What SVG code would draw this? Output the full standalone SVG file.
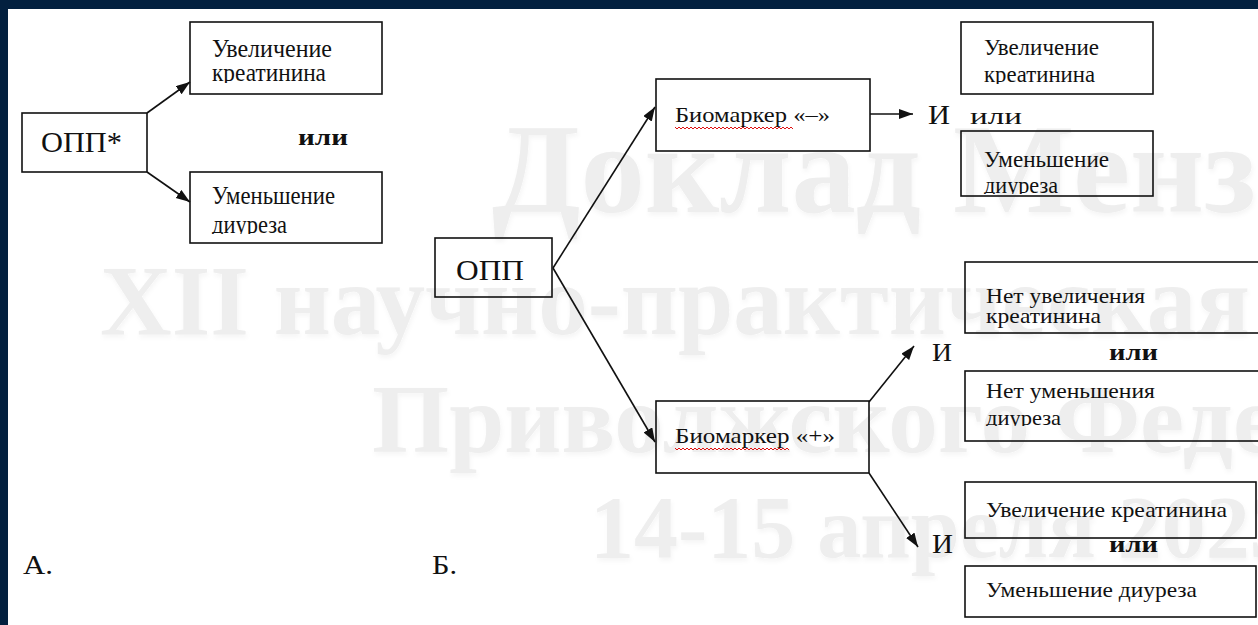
<svg xmlns="http://www.w3.org/2000/svg" width="1258" height="625" viewBox="0 0 1258 625">
<style>
text{font-family:'Liberation Serif','DejaVu Serif','Times New Roman',serif;}
.t{fill:#111;}
.b{font-weight:bold;}
.box{fill:none;stroke:#111;stroke-width:1.6;}
.wm{font-weight:bold;fill:#eeeeee;}
.cn{stroke:#111;stroke-width:1.6;fill:none;}
.sq{stroke:#e01010;stroke-width:1;fill:none;}
</style>
<defs>
<marker id="ah" markerUnits="userSpaceOnUse" markerWidth="15" markerHeight="11" refX="14" refY="5" orient="auto">
<path d="M0,0 L14,5 L0,10 z" fill="#111"/>
</marker>
<filter id="sh" x="-5%" y="-20%" width="110%" height="150%">
<feDropShadow dx="1" dy="3" stdDeviation="2" flood-color="#000" flood-opacity="0.04"/>
</filter>
<clipPath id="c1"><rect x="190" y="60" width="192" height="23"/></clipPath>
<clipPath id="c2"><rect x="190" y="208" width="192" height="26"/></clipPath>
<clipPath id="c3"><rect x="961" y="60" width="192" height="24"/></clipPath>
<clipPath id="c4"><rect x="961" y="170" width="192" height="24"/></clipPath>
<clipPath id="c5"><rect x="965" y="402" width="300" height="24"/></clipPath>
</defs>
<rect x="0" y="0" width="1258" height="625" fill="#ffffff"/>
<g id="watermark" filter="url(#sh)">
<text class="wm" x="492" y="212" font-size="127" textLength="764" lengthAdjust="spacingAndGlyphs">Доклад Менз</text>
<text class="wm" x="100" y="334" font-size="100" textLength="1150" lengthAdjust="spacingAndGlyphs">XII научно-практическая</text>
<text class="wm" x="372" y="452" font-size="98" textLength="905" lengthAdjust="spacingAndGlyphs">Приволжского Феде</text>
<text class="wm" x="590" y="557" font-size="88">14-15 апреля 2023</text>
</g>
<rect x="0" y="0" width="1258" height="9" fill="#03203f"/>
<rect x="0" y="0" width="8" height="625" fill="#03203f"/>
<g id="connectors">
<line class="cn" x1="147" y1="113" x2="190" y2="82" marker-end="url(#ah)"/>
<line class="cn" x1="147" y1="172" x2="190" y2="202" marker-end="url(#ah)"/>
<line class="cn" x1="553" y1="268" x2="655" y2="107" marker-end="url(#ah)"/>
<line class="cn" x1="553" y1="268" x2="655" y2="442" marker-end="url(#ah)"/>
<line class="cn" x1="870" y1="114" x2="913" y2="114" marker-end="url(#ah)"/>
<line class="cn" x1="869" y1="402" x2="914" y2="346" marker-end="url(#ah)"/>
<line class="cn" x1="869" y1="473" x2="918" y2="547" marker-end="url(#ah)"/>
</g>
<g id="a-opp"><rect class="box" x="22" y="113" width="125" height="59"/><text class="t" x="41" y="152" font-size="30" textLength="81" lengthAdjust="spacingAndGlyphs">ОПП*</text></g>
<g id="a-creat"><rect class="box" x="190" y="22" width="192" height="72"/>
<text class="t" x="212" y="57" font-size="25" textLength="120" lengthAdjust="spacingAndGlyphs">Увеличение</text>
<text class="t" x="212" y="81" font-size="25" textLength="114" lengthAdjust="spacingAndGlyphs" clip-path="url(#c1)">креатинина</text></g>
<g id="a-or"><text class="t b" x="298" y="145" font-size="24" textLength="50" lengthAdjust="spacingAndGlyphs">или</text></g>
<g id="a-diur"><rect class="box" x="190" y="172" width="192" height="71"/>
<text class="t" x="212" y="204" font-size="25" textLength="123" lengthAdjust="spacingAndGlyphs">Уменьшение</text>
<text class="t" x="212" y="233" font-size="25" textLength="75" lengthAdjust="spacingAndGlyphs" clip-path="url(#c2)">диуреза</text></g>
<g id="label-a"><text class="t" x="23" y="574" font-size="28" textLength="30" lengthAdjust="spacingAndGlyphs">А.</text></g>
<g id="label-b"><text class="t" x="432" y="574" font-size="28" textLength="25" lengthAdjust="spacingAndGlyphs">Б.</text></g>
<g id="b-opp"><rect class="box" x="435" y="238" width="117" height="59"/><text class="t" x="456" y="280" font-size="30" textLength="68" lengthAdjust="spacingAndGlyphs">ОПП</text></g>
<g id="b-bio-neg"><rect class="box" x="656" y="79" width="214" height="72"/>
<text class="t" x="675" y="122" font-size="22" textLength="155" lengthAdjust="spacingAndGlyphs">Биомаркер «–»</text>
<path class="sq" d="M675,127 l2,2 l2,-2 l2,2 l2,-2 l2,2 l2,-2 l2,2 l2,-2 l2,2 l2,-2 l2,2 l2,-2 l2,2 l2,-2 l2,2 l2,-2 l2,2 l2,-2 l2,2 l2,-2 l2,2 l2,-2 l2,2 l2,-2 l2,2 l2,-2 l2,2 l2,-2 l2,2 l2,-2 l2,2 l2,-2 l2,2 l2,-2 l2,2 l2,-2 l2,2 l2,-2 l2,2 l2,-2 l2,2 l2,-2 l2,2 l2,-2 l2,2 l2,-2 l2,2 l2,-2 l2,2 l2,-2 l2,2 l2,-2 l2,2 l2,-2 l2,2 l2,-2 l2,2 l2,-2 l2,2"/></g>
<g id="b-bio-pos"><rect class="box" x="656" y="401" width="213" height="72"/>
<text class="t" x="675" y="443" font-size="22" textLength="160" lengthAdjust="spacingAndGlyphs">Биомаркер «+»</text>
<path class="sq" d="M675,448 l2,2 l2,-2 l2,2 l2,-2 l2,2 l2,-2 l2,2 l2,-2 l2,2 l2,-2 l2,2 l2,-2 l2,2 l2,-2 l2,2 l2,-2 l2,2 l2,-2 l2,2 l2,-2 l2,2 l2,-2 l2,2 l2,-2 l2,2 l2,-2 l2,2 l2,-2 l2,2 l2,-2 l2,2 l2,-2 l2,2 l2,-2 l2,2 l2,-2 l2,2 l2,-2 l2,2 l2,-2 l2,2 l2,-2 l2,2 l2,-2 l2,2 l2,-2 l2,2 l2,-2 l2,2 l2,-2 l2,2 l2,-2 l2,2 l2,-2 l2,2 l2,-2 l2,2"/></g>
<g id="b-and1"><text class="t" x="928" y="124" font-size="27" textLength="22" lengthAdjust="spacingAndGlyphs">И</text><text class="t" x="970" y="124" font-size="24" textLength="52" lengthAdjust="spacingAndGlyphs">или</text></g>
<g id="b-creat1"><rect class="box" x="961" y="22" width="192" height="72"/>
<text class="t" x="984" y="55" font-size="24" textLength="115" lengthAdjust="spacingAndGlyphs">Увеличение</text>
<text class="t" x="984" y="82" font-size="24" textLength="111" lengthAdjust="spacingAndGlyphs" clip-path="url(#c3)">креатинина</text></g>
<g id="b-diur1"><rect class="box" x="961" y="131" width="192" height="65"/>
<text class="t" x="984" y="167" font-size="24" textLength="125" lengthAdjust="spacingAndGlyphs">Уменьшение</text>
<text class="t" x="984" y="193" font-size="24" textLength="74" lengthAdjust="spacingAndGlyphs" clip-path="url(#c4)">диуреза</text></g>
<g id="b-nocreat"><rect class="box" x="965" y="262" width="310" height="71"/>
<text class="t" x="986" y="303" font-size="21" textLength="159" lengthAdjust="spacingAndGlyphs">Нет увеличения</text>
<text class="t" x="986" y="323" font-size="21" textLength="115" lengthAdjust="spacingAndGlyphs">креатинина</text></g>
<g id="b-and2"><text class="t" x="932" y="361" font-size="26" textLength="20" lengthAdjust="spacingAndGlyphs">И</text><text class="t b" x="1109" y="360" font-size="23" textLength="49" lengthAdjust="spacingAndGlyphs">или</text></g>
<g id="b-nodiur"><rect class="box" x="965" y="371" width="310" height="70"/>
<text class="t" x="986" y="398" font-size="21" textLength="169" lengthAdjust="spacingAndGlyphs">Нет уменьшения</text>
<text class="t" x="986" y="425" font-size="21" textLength="75" lengthAdjust="spacingAndGlyphs" clip-path="url(#c5)">диуреза</text></g>
<g id="b-creat2"><rect class="box" x="965" y="482" width="291" height="56"/>
<text class="t" x="986" y="517" font-size="21" textLength="241" lengthAdjust="spacingAndGlyphs">Увеличение креатинина</text></g>
<g id="b-and3"><text class="t" x="932" y="553" font-size="27" textLength="21" lengthAdjust="spacingAndGlyphs">И</text><text class="t b" x="1109" y="552" font-size="23" textLength="49" lengthAdjust="spacingAndGlyphs">или</text></g>
<g id="b-diur2"><rect class="box" x="965" y="566" width="291" height="51"/>
<text class="t" x="986" y="597" font-size="21" textLength="211" lengthAdjust="spacingAndGlyphs">Уменьшение диуреза</text></g>
</svg>
